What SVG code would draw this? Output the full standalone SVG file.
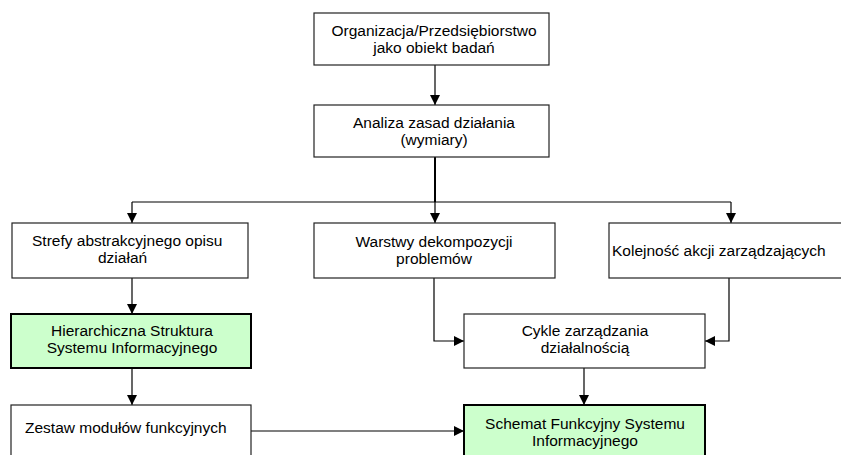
<svg xmlns="http://www.w3.org/2000/svg" width="841" height="455" viewBox="0 0 841 455">
<style>
.box{fill:#fff;stroke:#222;stroke-width:1.2}
.hl{fill:#ccffcc;stroke:#000;stroke-width:2}
.t{font-family:"Liberation Sans",Arial,sans-serif;font-size:15.5px;fill:#000}
.c{fill:none;stroke:#000;stroke-width:1.2}
</style>
<defs>
<marker id="ah" markerUnits="userSpaceOnUse" markerWidth="10" markerHeight="10" refX="10" refY="5" orient="auto" viewBox="0 0 10 10">
<path d="M0,0 L10,5 L0,10 Z" fill="#000"/>
</marker>
</defs>
<rect width="841" height="455" fill="#fff"/>
<g id="connectors">
<path class="c" d="M435,65 V105" marker-end="url(#ah)"/>
<path class="c" d="M435,157 V202" style="stroke-width:2"/>
<path class="c" d="M132,202 H731"/>
<path class="c" d="M132,202 V223" marker-end="url(#ah)"/>
<path class="c" d="M435,202 V223" marker-end="url(#ah)"/>
<path class="c" d="M731,202 V223" marker-end="url(#ah)"/>
<path class="c" d="M132,278 V314" marker-end="url(#ah)"/>
<path class="c" d="M434,278 V341 H464" marker-end="url(#ah)"/>
<path class="c" d="M729,278 V341 H705" marker-end="url(#ah)"/>
<path class="c" d="M132,368 V405" marker-end="url(#ah)"/>
<path class="c" d="M584,368 V405" marker-end="url(#ah)"/>
<path class="c" d="M251,431 H464" marker-end="url(#ah)"/>
</g>
<g id="n1">
<rect class="box" x="314" y="13" width="235" height="52"/>
<text class="t" x="434" y="36" text-anchor="middle">Organizacja/Przedsiębiorstwo</text>
<text class="t" x="434" y="53" text-anchor="middle">jako obiekt badań</text>
</g>
<g id="n2">
<rect class="box" x="314" y="105" width="235" height="52"/>
<text class="t" x="434" y="128" text-anchor="middle">Analiza zasad działania</text>
<text class="t" x="434" y="145" text-anchor="middle">(wymiary)</text>
</g>
<g id="n3">
<rect class="box" x="12" y="223" width="236" height="55"/>
<text class="t" x="32" y="246">Strefy abstrakcyjnego opisu</text>
<text class="t" x="98" y="263">działań</text>
</g>
<g id="n4">
<rect class="box" x="314" y="223" width="241" height="55"/>
<text class="t" x="434" y="247" text-anchor="middle">Warstwy dekompozycji</text>
<text class="t" x="434" y="264" text-anchor="middle">problemów</text>
</g>
<g id="n5">
<rect class="box" x="609" y="223" width="250" height="55"/>
<text class="t" x="612" y="256">Kolejność akcji zarządzających</text>
</g>
<g id="n6">
<rect class="hl" x="11" y="314" width="240" height="54"/>
<text class="t" x="132" y="336" text-anchor="middle">Hierarchiczna Struktura</text>
<text class="t" x="132" y="353" text-anchor="middle">Systemu Informacyjnego</text>
</g>
<g id="n7">
<rect class="box" x="464" y="314" width="241" height="54"/>
<text class="t" x="585" y="336" text-anchor="middle">Cykle zarządzania</text>
<text class="t" x="585" y="353" text-anchor="middle">działalnością</text>
</g>
<g id="n8">
<rect class="box" x="11" y="405" width="240" height="60"/>
<text class="t" x="25" y="433">Zestaw modułów funkcyjnych</text>
</g>
<g id="n9">
<rect class="hl" x="464" y="405" width="241" height="60"/>
<text class="t" x="585" y="429" text-anchor="middle">Schemat Funkcyjny Systemu</text>
<text class="t" x="585" y="446" text-anchor="middle">Informacyjnego</text>
</g>
</svg>
